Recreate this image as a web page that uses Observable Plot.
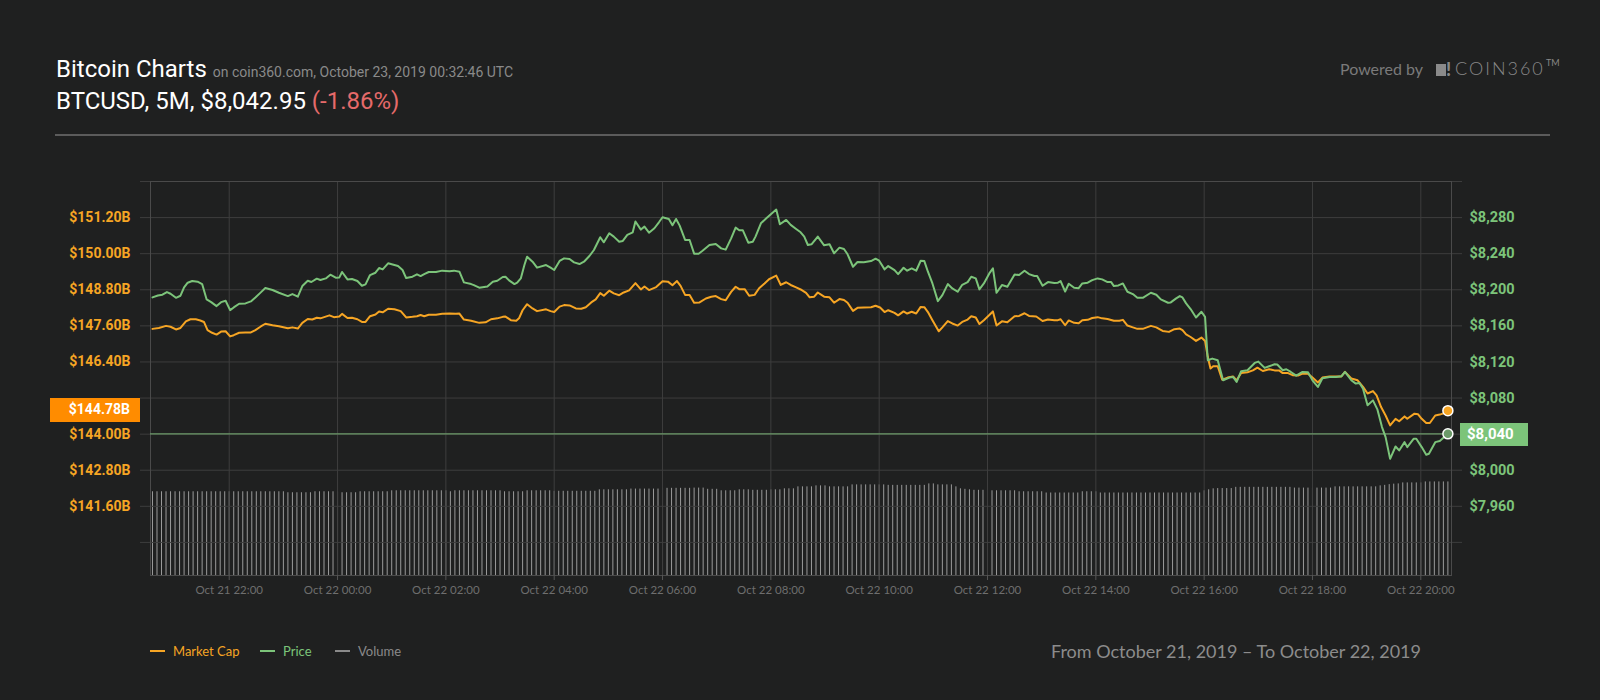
<!DOCTYPE html>
<html>
<head>
<meta charset="utf-8">
<script src="https://cdn.jsdelivr.net/npm/d3@7"></script>
<script src="https://cdn.jsdelivr.net/npm/@observablehq/plot@0.6"></script>
<style>
  html, body { margin: 0; padding: 0; background: #1f2020; }
  #wrap { position: relative; width: 1600px; height: 700px; overflow: hidden; background: #1f2020; font-family: Roboto, sans-serif; }
  .abs { position: absolute; white-space: nowrap; }
  .layer { position: absolute; left: 0; top: 0; }
  #t1 { left: 56px; top: 56.5px; font-size: 24px; line-height: 24px; color: #ffffff; }
  #t1 span { font-size: 14px; color: #8a8a8a; }
  #t2 { left: 56px; top: 89px; font-size: 24px; line-height: 24px; color: #ffffff; }
  #t2 span { color: #e56a6a; }
  #sep { left: 55px; top: 134px; width: 1495px; height: 2px; background: #5b5b5b; }
  #powered { left: 1340px; top: 61px; font-family: Lato, sans-serif; font-size: 16px; line-height: 16px; color: #7a7a7a; }
  #logo { left: 1436px; top: 60px; height: 18px; font-family: Lato, sans-serif; color: #888; }
  #logo .box { position: absolute; left: 0; top: 4px; width: 10px; height: 12px; background: #8a8a8a; }
  #logo .bang { position: absolute; left: 10px; top: 0px; font-weight: 900; font-size: 18px; line-height: 18px; }
  #logo .name { position: absolute; left: 19px; top: -1px; font-weight: 300; font-size: 18px; line-height: 18px; letter-spacing: 2px; }
  #logo .tm { position: absolute; left: 110px; top: -2px; font-size: 9px; line-height: 9px; }
  .leg { top: 645px; font-family: Lato, sans-serif; font-size: 13px; line-height: 13px; }
  .dash { position: absolute; top: 650px; width: 15px; height: 2px; }
  #range { left: 1051px; top: 641.7px; font-family: Lato, sans-serif; font-size: 18px; line-height: 18px; color: #8c8c8c; }
  .badge { position: absolute; color: #fff; font-weight: bold; font-family: Roboto, sans-serif; box-sizing: border-box; }
</style>
</head>
<body>
<div id="wrap">
  <div id="t1" class="abs">Bitcoin Charts <span>on coin360.com, October 23, 2019 00:32:46 UTC</span></div>
  <div id="t2" class="abs">BTCUSD, 5M, $8,042.95 <span>(-1.86%)</span></div>
  <div id="sep" class="abs"></div>
  <div id="powered" class="abs">Powered by</div>
  <div id="logo" class="abs"><div class="box"></div><div class="bang">!</div><div class="name">COIN360</div><div class="tm">TM</div></div>
  <div id="range" class="abs">From October 21, 2019 – To October 22, 2019</div>
</div>
<script>
// ---------- data ----------
// minutes after Oct 21 2019 20:30
const mcMinutes = [5,12,20,25,31,36,42,47,53,58,62,66,71,76,81,86,91,95,101,108,114,119,125,130,138,145,155,160,166,171,177,182,187,191,201,206,212,215,221,226,232,237,241,246,252,256,260,266,273,280,286,293,298,302,306,311,319,326,334,341,345,350,358,367,
374,380,387,393,396,402,408,411,415,420,426,431,441,446,450,456,461,467,474,480,485,491,496,501,505,511,516,522,527,533,540,546,550,555,563,570,576,581,586,590,595,600,605,611,618,624,629,635,640,646,651,655,661,666,672,677,683,688,696,701,707,712,718,723,729,733,738,
742,749,755,760,766,771,775,781,786,793,801,806,811,816,820,827,831,837,841,846,851,856,860,864,869,876,880,886,891,897,902,908,912,917,921,926,932,936,940,946,952,960,965,971,976,984,991,997,1004,1008,1011,1016,1020,1026,1031,1035,1041,1046,1052,1057,1063,1070,1076,1080,1085,1091,1096,1102,
1111,1117,1124,1131,1137,1143,1146,1150,1155,1161,1167,1171,1174,1177,1180,1185,1190,1196,1202,1206,1211,1218,1224,1229,1235,1242,1248,1253,1257,1263,1268,1274,1279,1285,1290,1296,1301,1309,1316,1322,1326,1333,1340,1346,1351,1357,1361,1366,1371,1376,1382,1386,1392,1395,1403,1407,1411,1416,1420,1426,1431,1436,1440];
const marketCap = [147.50,147.53,147.60,147.57,147.48,147.53,147.75,147.82,147.82,147.78,147.73,147.46,147.37,147.31,147.41,147.42,147.25,147.29,147.37,147.38,147.38,147.46,147.58,147.67,147.62,147.59,147.52,147.55,147.51,147.70,147.83,147.81,147.87,147.85,147.95,147.89,147.91,148.00,147.86,147.87,147.82,147.73,147.73,147.92,147.98,148.08,148.05,148.17,148.15,148.09,147.88,147.90,147.92,147.96,147.92,147.97,147.97,148.00,148.01,148.00,148.01,147.81,147.77,147.70,
147.72,147.82,147.85,147.90,147.91,147.79,147.77,147.85,148.12,148.32,148.18,148.09,148.15,148.09,148.06,148.24,148.29,148.28,148.18,148.17,148.22,148.38,148.48,148.69,148.60,148.77,148.68,148.62,148.71,148.78,149.02,148.81,148.91,148.79,148.89,149.08,149.07,148.95,149.09,148.93,148.63,148.63,148.37,148.38,148.51,148.57,148.59,148.49,148.45,148.73,148.90,148.82,148.82,148.60,148.63,148.85,149.01,149.15,149.27,148.96,149.05,148.96,148.88,148.81,148.70,148.55,148.57,
148.71,148.57,148.55,148.37,148.49,148.46,148.37,148.10,148.20,148.21,148.22,148.27,148.21,148.06,148.12,148.03,147.95,148.08,148.01,148.07,148.01,148.23,148.22,148.06,147.79,147.42,147.55,147.76,147.68,147.61,147.73,147.81,147.92,147.88,147.66,147.79,147.96,148.08,147.61,147.75,147.72,147.92,147.93,148.02,147.93,147.91,147.76,147.81,147.79,147.79,147.82,147.62,147.78,147.70,147.69,147.79,147.80,147.86,147.89,147.85,147.83,147.77,147.77,147.80,147.61,147.55,147.50,147.50,
147.60,147.55,147.43,147.40,147.49,147.51,147.46,147.32,147.23,147.10,147.21,147.10,146.57,146.18,146.26,146.26,145.81,145.88,145.92,145.79,146.03,146.06,146.12,146.21,146.10,146.16,146.12,146.12,146.03,146.03,145.96,145.95,146.01,146.01,145.88,145.72,145.88,145.92,145.92,145.92,146.07,145.85,145.79,145.57,145.35,145.43,145.29,144.90,144.62,144.29,144.51,144.43,144.59,144.51,144.68,144.66,144.51,144.37,144.37,144.62,144.65,144.70,144.78];

const priceMinutes = [5,11,16,21,25,31,36,40,44,49,55,60,65,70,76,81,86,91,95,101,108,114,119,125,130,138,145,155,160,166,171,177,181,187,191,197,202,208,212,215,221,226,232,237,241,246,252,256,260,266,273,277,282,286,293,298,302,306,311,319,326,334,339,345,350,358,361,367,
376,382,387,393,396,400,406,409,413,417,420,426,431,441,446,450,456,461,467,472,478,483,489,494,501,505,511,516,522,526,531,537,540,546,550,555,561,566,570,574,577,581,585,589,595,600,605,610,614,622,629,635,640,646,651,655,659,665,670,673,679,685,690,696,700,707,712,718,723,727,731,735,
742,749,755,760,766,771,775,781,786,793,801,806,810,816,820,827,831,837,841,846,851,856,860,864,869,875,880,886,891,897,902,908,912,917,921,926,932,936,940,946,952,960,965,971,976,982,985,991,997,1004,1008,1011,1016,1020,1026,1031,1035,1041,1046,1052,1057,1063,1067,1070,1075,1080,1085,1091,1096,1102,
1111,1117,1122,1130,1133,1139,1143,1146,1150,1155,1161,1167,1171,1174,1179,1185,1191,1198,1202,1206,1211,1218,1226,1230,1237,1242,1248,1251,1257,1261,1266,1272,1279,1285,1290,1296,1301,1309,1316,1322,1326,1333,1338,1342,1346,1351,1357,1362,1367,1371,1376,1382,1386,1392,1395,1402,1405,1411,1416,1419,1426,1431,1436,1440];
const price = [8191.5,8193.7,8194.5,8197.4,8195.6,8191.1,8193.4,8202.6,8207.8,8209.7,8208.9,8206.3,8189.3,8186.3,8181.9,8186.3,8187.8,8177.4,8180.4,8184.5,8184.9,8187.1,8191.5,8197.1,8201.9,8199.7,8196.7,8193.0,8195.2,8192.3,8204.1,8210.0,8208.6,8212.3,8210.8,8212.6,8216.7,8213.4,8213.7,8219.7,8211.5,8211.9,8209.7,8204.5,8206.0,8216.3,8218.9,8224.1,8222.6,8229.3,8227.4,8226.3,8221.9,8213.0,8214.5,8217.1,8215.2,8217.4,8219.7,8219.7,8221.2,8220.4,8221.2,8220.0,8208.2,8206.3,8205.2,8202.3,
8203.7,8208.9,8210.0,8214.1,8214.5,8210.4,8206.3,8207.8,8212.6,8227.4,8236.7,8231.1,8224.5,8227.4,8224.5,8221.9,8231.9,8234.8,8234.1,8230.4,8228.5,8231.1,8237.4,8244.1,8258.2,8252.6,8262.6,8258.9,8253.3,8254.1,8260.8,8263.7,8275.6,8266.7,8270.0,8263.3,8268.2,8274.8,8280.4,8279.3,8278.5,8271.5,8278.5,8271.1,8255.2,8255.2,8240.0,8240.0,8243.0,8249.6,8250.8,8245.9,8244.5,8257.0,8268.9,8265.9,8265.9,8252.2,8253.3,8258.9,8273.7,8279.3,8283.7,8288.9,8272.6,8277.4,8271.9,8267.4,8263.7,8258.9,8249.6,8250.4,
8258.9,8249.3,8250.4,8240.4,8246.7,8245.2,8239.3,8225.5,8230.7,8230.4,8231.8,8234.4,8232.2,8222.6,8226.3,8221.8,8217.4,8224.4,8221.1,8223.7,8221.1,8232.2,8231.8,8220.0,8207.0,8187.4,8194.1,8206.3,8201.5,8197.8,8205.5,8208.5,8214.4,8212.6,8200.4,8207.0,8218.1,8223.7,8196.7,8205.2,8203.3,8217.0,8216.3,8221.1,8217.4,8215.2,8215.2,8204.4,8208.5,8207.4,8207.8,8209.6,8198.1,8206.7,8202.2,8201.8,8207.0,8207.8,8210.7,8212.6,8211.5,8208.5,8208.5,8204.1,8204.8,8207.0,8197.8,8195.2,8191.1,8191.1,
8196.7,8194.5,8189.3,8185.6,8186.0,8190.4,8193.0,8191.5,8184.9,8178.6,8169.3,8175.6,8170.0,8121.9,8123.7,8121.9,8099.7,8102.6,8103.4,8097.8,8109.7,8110.8,8118.9,8120.4,8113.4,8115.2,8117.4,8117.1,8110.8,8111.9,8108.9,8104.8,8108.9,8108.5,8099.7,8092.3,8101.9,8103.4,8103.4,8104.1,8108.9,8099.7,8096.0,8096.7,8090.4,8071.9,8077.4,8067.1,8047.8,8036.7,8012.6,8026.3,8021.9,8031.1,8025.6,8034.8,8034.8,8025.6,8017.1,8018.2,8031.1,8032.3,8036.7,8040.3];

// 24h volume (billions USD), one bar every 5 minutes from 20:35
const volumeStartMinute = 5;
const volumeB = [
17.0,17.0,17.0,17.0,17.0,17.0,17.0,17.0,17.0,17.0,17.0,17.0,
17.0,17.0,17.0,17.0,17.0,17.0,17.0,17.0,17.0,17.0,17.0,17.0,
17.0,17.0,17.0,17.0,17.0,17.0,16.8,16.8,16.8,16.8,16.8,16.8,
17.0,17.0,17.0,17.0,17.0,17.0,16.8,16.8,16.8,16.8,17.0,17.0,
17.0,17.0,17.0,17.0,17.0,17.2,17.2,17.2,17.2,17.2,17.2,17.2,
17.2,17.2,17.2,17.2,17.2,17.2,17.0,17.2,17.2,17.2,17.2,17.2,
17.2,17.2,17.2,17.2,17.2,17.2,17.0,17.0,17.0,17.0,17.0,17.2,
17.2,17.2,17.2,17.2,17.2,17.1,17.1,17.1,17.1,17.1,17.1,17.1,
17.1,17.1,17.1,17.4,17.4,17.4,17.4,17.4,17.4,17.4,17.55,17.55,
17.55,17.55,17.55,17.55,17.55,17.7,17.7,17.7,17.7,17.7,17.7,17.7,
17.75,17.75,17.75,17.5,17.5,17.5,17.2,17.2,17.2,17.2,17.4,17.4,
17.4,17.3,17.3,17.3,17.3,17.4,17.4,17.4,17.6,17.6,17.6,18.0,
18.0,18.0,18.0,18.2,18.2,18.2,18.0,18.0,18.0,18.0,18.0,18.4,
18.4,18.4,18.4,18.4,18.4,18.4,18.4,18.3,18.3,18.3,18.3,18.3,
18.3,18.3,18.3,18.3,18.6,18.6,18.4,18.4,18.4,18.4,18.0,17.6,
17.5,17.4,17.3,17.3,17.3,17.3,17.2,17.2,17.2,17.2,17.2,17.2,
17.0,17.0,17.0,17.0,17.0,17.0,16.75,16.75,16.75,16.75,16.75,16.75,
16.75,16.75,17.0,17.0,17.0,17.0,16.75,16.75,16.75,16.75,16.75,16.75,
16.75,16.75,16.75,16.75,16.75,16.75,16.75,16.75,16.75,16.75,16.75,16.75,
16.75,16.75,16.75,16.75,16.75,17.2,17.4,17.6,17.65,17.65,17.65,17.65,
17.9,17.9,17.9,17.9,17.9,17.9,17.9,17.9,17.9,17.9,17.9,17.9,
17.9,17.75,17.75,17.75,17.75,17.75,17.75,17.75,17.75,17.75,18.0,18.0,
18.0,18.0,18.0,18.0,18.0,18.0,18.0,18.0,18.2,18.3,18.45,18.55,
18.6,18.8,18.8,18.8,18.8,18.8,19.0,19.0,19.0,19.0,19.0,19.0];

const xTickLabels = ["Oct 21 22:00","Oct 22 00:00","Oct 22 02:00","Oct 22 04:00","Oct 22 06:00","Oct 22 08:00","Oct 22 10:00","Oct 22 12:00","Oct 22 14:00","Oct 22 16:00","Oct 22 18:00","Oct 22 20:00"];
const mcGrid = [140.4,141.6,142.8,144.0,145.2,146.4,147.6,148.8,150.0,151.2,152.4];
const mcTickLabels = ["","$141.60B","$142.80B","$144.00B","","$146.40B","$147.60B","$148.80B","$150.00B","$151.20B",""];
const priceGrid = [7920,7960,8000,8040,8080,8120,8160,8200,8240,8280,8320];
const priceTickLabels = ["","$7,960","$8,000","","$8,080","$8,120","$8,160","$8,200","$8,240","$8,280",""];
const mcDomain = [139.3, 152.4];
const priceDomain = [7883.3, 8320];
const volumeDomain = [0, 80];
const lastMCLabel = "$144.78B";
const lastPriceLabel = "$8,040";

// ---------- colours ----------
const ORANGE = "#f6a524";
const GREEN = "#7cc47a";
const GRID = "#3d3d3d";

// ---------- build tables ----------
const base = Date.UTC(2019, 9, 21, 20, 30);
const toDate = m => new Date(base + m * 60000);
const mcData = mcMinutes.map((m, i) => ({date: toDate(m), value: marketCap[i]}));
const priceData = priceMinutes.map((m, i) => ({date: toDate(m), value: price[i]}));
const volData = volumeB.map((v, i) => ({date: toDate(volumeStartMinute + 5 * i), value: v}));
const parseTick = d3.utcParse("%Y %b %d %H:%M");
const xTicks = xTickLabels.map(s => parseTick("2019 " + s));
const xLabelMap = new Map(xTicks.map((d, i) => [+d, xTickLabels[i]]));
const mcLabelMap = new Map(mcGrid.map((d, i) => [d, mcTickLabels[i]]));
const priceLabelMap = new Map(priceGrid.map((d, i) => [d, priceTickLabels[i]]));
const xDomain = [toDate(2.8), toDate(1444)];
const lastMC = mcData[mcData.length - 1];
const lastPrice = priceData[priceData.length - 1];

const common = {
  width: 1600, height: 700,
  marginLeft: 150, marginRight: 149, marginTop: 181, marginBottom: 125,
  style: {background: "transparent", color: "#aaa", fontFamily: "Roboto, sans-serif", overflow: "visible"}
};

const volPlot = Plot.plot({
  ...common,
  x: {type: "utc", domain: xDomain, axis: null},
  y: {domain: volumeDomain, axis: null},
  marks: [
    Plot.ruleX(volData, {x: "date", y: "value", stroke: "#9a9a9a", strokeWidth: 1})
  ]
});

const mainPlot = Plot.plot({
  ...common,
  x: {type: "utc", domain: xDomain},
  y: {domain: mcDomain},
  marks: [
    Plot.gridY(mcGrid, {stroke: GRID, strokeOpacity: 1}),
    Plot.gridX(xTicks, {stroke: GRID, strokeOpacity: 1}),
    Plot.frame({stroke: "#4a4a4a"}),
    Plot.axisY(mcGrid, {anchor: "left", label: null, tickSize: 10, tickPadding: 10,
      tickFormat: d => mcLabelMap.get(d), stroke: GRID, fill: ORANGE, fontSize: 14, fontWeight: "bold"}),
    Plot.axisX(xTicks, {anchor: "bottom", label: null, tickSize: 5, tickPadding: 5,
      tickFormat: d => xLabelMap.get(+d), stroke: "#555", fill: "#6e6e6e", fontSize: 11.5, fontFamily: "Lato, sans-serif"}),
    Plot.line(mcData, {x: "date", y: "value", stroke: ORANGE, strokeWidth: 2}),
    Plot.dot([lastMC], {x: "date", y: "value", r: 5, fill: ORANGE, stroke: "#fff", strokeWidth: 1.5})
  ]
});

const pricePlot = Plot.plot({
  ...common,
  x: {type: "utc", domain: xDomain, axis: null},
  y: {domain: priceDomain},
  marks: [
    Plot.axisY(priceGrid, {anchor: "right", label: null, tickSize: 10, tickPadding: 8,
      tickFormat: d => priceLabelMap.get(d), stroke: GRID, fill: GREEN, fontSize: 14.5, fontWeight: "bold"}),
    Plot.ruleY([lastPrice], {y: "value", stroke: "#6b9a69", strokeWidth: 1.3}),
    Plot.line(priceData, {x: "date", y: "value", stroke: GREEN, strokeWidth: 2}),
    Plot.dot([lastPrice], {x: "date", y: "value", r: 5, fill: "#6b9a69", stroke: "#fff", strokeWidth: 1.5})
  ]
});

const wrap = document.getElementById("wrap");
for (const p of [volPlot, mainPlot, pricePlot]) {
  p.classList.add("layer");
  p.style.position = "absolute";
  p.style.left = "0px";
  p.style.top = "0px";
  wrap.appendChild(p);
}

// value badges placed by the plots' own y scales
const yMC = mainPlot.scale("y").apply(lastMC.value);
const b1 = document.createElement("div");
b1.className = "badge";
Object.assign(b1.style, {left: "50px", top: (yMC - 11.7) + "px", width: "90px", height: "23.4px",
  background: "#ff8c00", fontSize: "14px", lineHeight: "23.4px", textAlign: "right", paddingRight: "10px"});
b1.textContent = lastMCLabel;
wrap.appendChild(b1);

const yP = pricePlot.scale("y").apply(lastPrice.value);
const b2 = document.createElement("div");
b2.className = "badge";
Object.assign(b2.style, {left: "1460px", top: (yP - 10) + "px", width: "68px", height: "23px",
  background: GREEN, fontSize: "15px", lineHeight: "23px", textAlign: "left", paddingLeft: "7px"});
b2.textContent = lastPriceLabel;
wrap.appendChild(b2);

// legend
const legendItems = [
  {name: "Market Cap", color: ORANGE, x: 150},
  {name: "Price", color: GREEN, x: 260},
  {name: "Volume", color: "#8a8a8a", x: 335}
];
for (const it of legendItems) {
  const d = document.createElement("div");
  d.className = "dash";
  Object.assign(d.style, {left: it.x + "px", background: it.color});
  wrap.appendChild(d);
  const t = document.createElement("div");
  t.className = "abs leg";
  Object.assign(t.style, {left: (it.x + 23) + "px", color: it.color});
  t.textContent = it.name;
  wrap.appendChild(t);
}
</script>
</body>
</html>
